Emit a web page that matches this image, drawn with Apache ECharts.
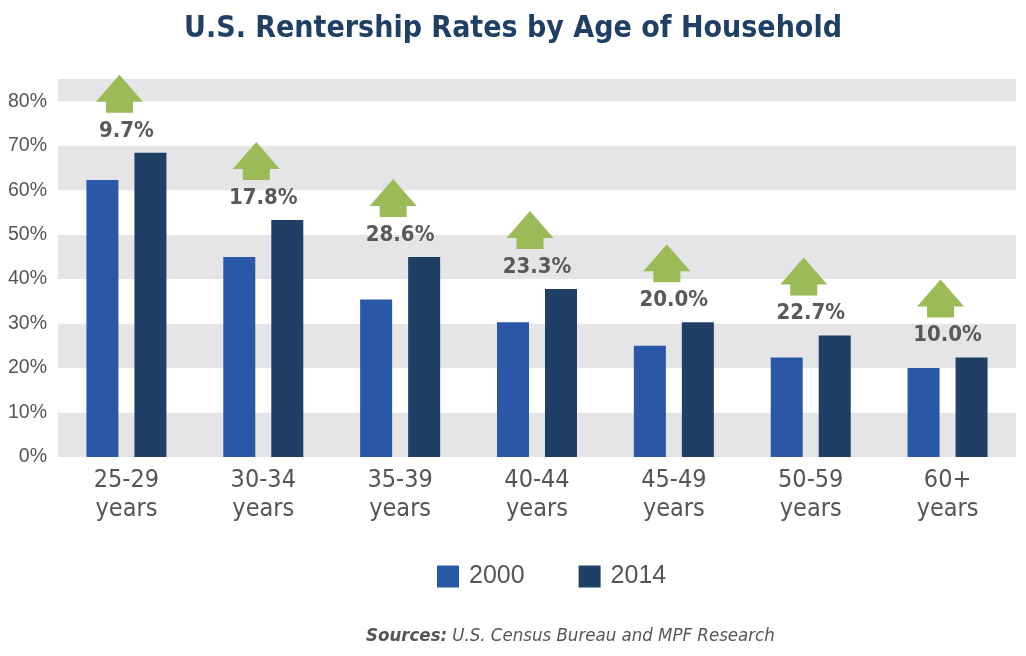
<!DOCTYPE html>
<html>
<head>
<meta charset="utf-8">
<script src="https://cdn.jsdelivr.net/npm/echarts@6/dist/echarts.min.js"></script>
<style>html,body{margin:0;padding:0;background:#fff;}#c{width:1026px;height:656px;}</style>
</head>
<body>
<div id="c"></div>
<script>
const categories = ['25-29', '30-34', '35-39', '40-44', '45-49', '50-59', '60+'];
const rate2000 = [62.3, 45.0, 35.4, 30.3, 25.0, 22.4, 20.0];
const rate2014 = [68.4, 53.3, 45.0, 37.8, 30.3, 27.3, 22.4];
const changeLabels = ['9.7%', '17.8%', '28.6%', '23.3%', '20.0%', '22.7%', '10.0%'];
const yTicks = [0, 10, 20, 30, 40, 50, 60, 70, 80];

const C2000 = '#2A58A7', C2014 = '#1F3F64', ARROW = '#9BBB59', BAND = '#E5E5E7';
const NARROW = '"DejaVu Sans Condensed", "Liberation Sans", sans-serif';
const SANS = '"Liberation Sans", Arial, sans-serif';

const chart = echarts.init(document.getElementById('c'), null, {renderer: 'canvas'});
chart.setOption({
  animation: false,
  backgroundColor: '#ffffff',
  title: [{
    text: 'U.S. Rentership Rates by Age of Household',
    left: 'center', top: 9,
    textStyle: {fontFamily: NARROW, fontWeight: 'bold', fontSize: 30, color: C2014}
  }, {
    text: '{b|Sources:} {i|U.S. Census Bureau and MPF Research}',
    left: 361, top: 622,
    textStyle: {
      rich: {
        b: {fontFamily: NARROW, fontWeight: 'bold', fontStyle: 'italic', fontSize: 18.5, color: '#555559'},
        i: {fontFamily: NARROW, fontWeight: 'normal', fontStyle: 'italic', fontSize: 18.5, color: '#555559'}
      }
    }
  }],
  legend: {
    data: ['2000', '2014'],
    left: 432, top: 559,
    itemWidth: 22, itemHeight: 22, itemGap: 54,
    icon: 'rect',
    textStyle: {fontFamily: SANS, fontSize: 25, color: '#555559', padding: [0, 0, 0, 5]}
  },
  grid: {left: 58, right: 10, top: 79, bottom: 199, containLabel: false},
  xAxis: {
    type: 'category',
    data: categories,
    axisLine: {show: false},
    axisTick: {show: false},
    axisLabel: {
      margin: 9,
      fontFamily: NARROW, fontSize: 25, lineHeight: 29, color: '#555559',
      formatter: v => v + '\nyears'
    }
  },
  yAxis: {
    type: 'value',
    min: 0, max: 85, interval: 10,
    axisLine: {show: false},
    axisTick: {show: false},
    splitLine: {show: false},
    splitArea: {show: true, areaStyle: {color: [BAND, '#ffffff']}},
    axisLabel: {
      margin: 11,
      fontFamily: SANS, fontSize: 19.5, color: '#555559',
      formatter: v => yTicks.indexOf(v) >= 0 ? v + '%' : ''
    }
  },
  series: [{
    name: '2000', type: 'bar', data: rate2000,
    barWidth: 32, barGap: '50%',
    itemStyle: {color: C2000}
  }, {
    name: '2014', type: 'bar', data: rate2014,
    barWidth: 32,
    itemStyle: {color: C2014}
  }, {
    type: 'custom',
    name: 'change',
    z: 10,
    clip: false,
    data: categories.map((c, i) => [i, rate2014[i]]),
    renderItem: function (params, api) {
      const p = api.coord([api.value(0), api.value(1)]);
      const cx = p[0], top = p[1];
      const ly = top - 22;           // label centre
      const ab = ly - 18;            // arrow bottom
      const ax = cx - 7;             // arrow centre
      const hw = 23.5, sw = 13.5, headH = 27, stemH = 11;
      const pts = [
        [ax, ab - stemH - headH],
        [ax + hw, ab - stemH],
        [ax + sw, ab - stemH],
        [ax + sw, ab],
        [ax - sw, ab],
        [ax - sw, ab - stemH],
        [ax - hw, ab - stemH]
      ];
      return {
        type: 'group',
        children: [{
          type: 'polygon',
          shape: {points: pts},
          style: {fill: ARROW}
        }, {
          type: 'text',
          x: cx, y: ly,
          style: {
            text: changeLabels[params.dataIndex],
            fontFamily: NARROW, fontWeight: 'bold', fontSize: 22,
            fill: '#58595B', align: 'center', verticalAlign: 'middle'
          }
        }]
      };
    }
  }]
});
</script>
</body>
</html>
